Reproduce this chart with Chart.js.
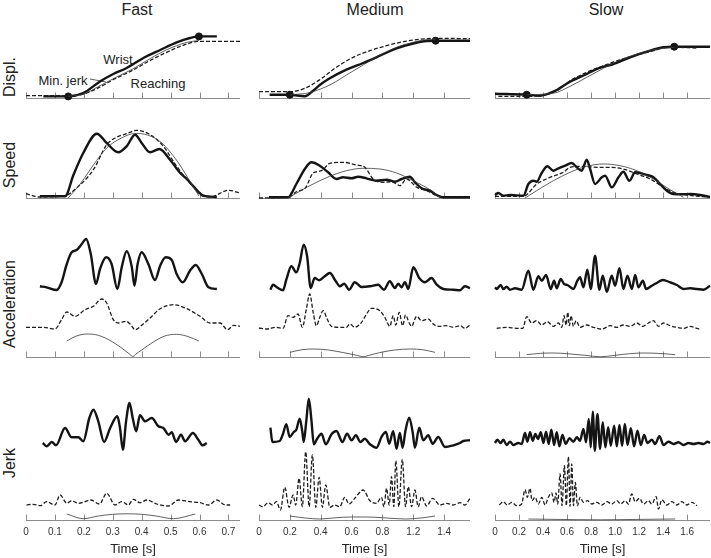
<!DOCTYPE html>
<html>
<head>
<meta charset="utf-8">
<script src="https://cdn.jsdelivr.net/npm/chart.js@4.4.1/dist/chart.umd.min.js"></script>
<style>
html, body { margin: 0; padding: 0; background: #fff; overflow: hidden; width: 711px; height: 558px; }
#fig { position: relative; width: 711px; height: 558px; font-family: "Liberation Sans", Arial, Helvetica, sans-serif; color: #222; }
#fig canvas { position: absolute; }
.lbl { position: absolute; white-space: nowrap; transform: translate(-50%, -50%); line-height: 1; }
.title { font-size: 16px; }
.rowlbl { font-size: 16px; transform: translate(-50%, -50%) rotate(-90deg); }
.note { font-size: 13px; }
</style>
</head>
<body>
<div id="fig">
  <div class="lbl title" style="left:137px; top:10px;">Fast</div>
  <div class="lbl title" style="left:375px; top:10px;">Medium</div>
  <div class="lbl title" style="left:606px; top:10px;">Slow</div>
  <div class="lbl rowlbl" style="left:10px; top:77px;">Displ.</div>
  <div class="lbl rowlbl" style="left:10px; top:165px;">Speed</div>
  <div class="lbl rowlbl" style="left:10px; top:304px;">Acceleration</div>
  <div class="lbl rowlbl" style="left:10px; top:463px;">Jerk</div>
  <div class="lbl note" style="left:118px; top:59px;">Wrist</div>
  <div class="lbl note" style="left:63px; top:80px;">Min. jerk</div>
  <div class="lbl note" style="left:158px; top:83px;">Reaching</div>
  <svg width="711" height="558" style="position:absolute; left:0; top:0; pointer-events:none;">
    <line x1="90" y1="79" x2="106" y2="82" stroke="#333" stroke-width="0.8"/>
  </svg>
</div>
<script>
// tick labels under each column
const fastTickLabels = ['0', '0.1', '0.2', '0.3', '0.4', '0.5', '0.6', '0.7'];
const mediumTickLabels = ['0', '0.2', '0.4', '0.6', '0.8', '1.2', '1.4'];
const slowTickLabels = ['0', '0.2', '0.4', '0.6', '0.8', '1.0', '1.2', '1.4', '1.6'];

// [time s, value] -- arbitrary units

// ---- Fast ----
const fastDisplWrist = [[0.06,1.6],[0.146,1.6],[0.198,5],[0.256,16.6],[0.302,24],[0.348,30],[0.406,40],[0.464,48],[0.521,55.6],[0.567,60],[0.598,61.6],[0.66,61.6]];
const fastDisplReach = [[0,2.3],[0.15,2.3],[0.198,4],[0.256,11],[0.308,19.3],[0.366,27.3],[0.423,36.6],[0.481,45],[0.54,52.3],[0.598,56.6],[0.74,56.6]];
const fastDisplMinJerk = [[0.146,1.6],[0.2,4],[0.256,12.3],[0.31,20.5],[0.371,29.3],[0.43,39.5],[0.487,48.3],[0.556,55.6],[0.598,57.5]];
const fastDisplMarks = [[0.146,1.6],[0.598,61.6]];

const fastSpeedWrist = [[0.048,1.7],[0.135,1.7],[0.164,23],[0.198,45],[0.245,64.3],[0.279,55],[0.319,45.7],[0.348,51.7],[0.377,63.3],[0.4,55],[0.429,45.7],[0.461,49],[0.498,38.3],[0.533,25],[0.556,19],[0.579,11.7],[0.614,2.3],[0.66,1]];
const fastSpeedReach = [[0,4.3],[0.048,1],[0.135,2.3],[0.175,10],[0.233,28.3],[0.279,53.3],[0.308,60],[0.348,64.3],[0.383,67.7],[0.429,63.3],[0.475,51.7],[0.521,31.7],[0.567,15],[0.614,1.7],[0.637,1],[0.7,7.7],[0.74,5]];
const fastSpeedMinJerk = [[0.146,0],[0.19,15],[0.233,33],[0.279,50],[0.33,60],[0.377,64.5],[0.42,63],[0.47,55],[0.52,38],[0.56,20],[0.598,2]];

const fastAccWrist = [[0.048,2.7],[0.071,1.7],[0.106,-1],[0.123,6.7],[0.141,25],[0.158,36.7],[0.175,39],[0.193,45],[0.208,50],[0.224,35],[0.242,5],[0.256,20],[0.277,31.7],[0.296,25],[0.316,0],[0.331,21.7],[0.348,37.7],[0.366,21.7],[0.375,3.3],[0.386,25],[0.4,36.7],[0.423,25],[0.446,9],[0.464,23.3],[0.483,31.7],[0.504,29],[0.521,15],[0.542,6.7],[0.567,18.3],[0.587,24],[0.608,15],[0.631,1.7],[0.66,0]];
const fastAccReach = [[0,0.7],[0.025,0.7],[0.06,0.7],[0.1,-1],[0.123,8.3],[0.141,16],[0.17,11.7],[0.204,18.3],[0.233,21.7],[0.262,29],[0.279,25],[0.302,8.3],[0.319,5],[0.346,6.7],[0.362,3.3],[0.377,-1.7],[0.4,2.7],[0.429,10],[0.464,19.3],[0.51,23.3],[0.556,19.3],[0.602,11.7],[0.637,5],[0.671,5],[0.697,-1.7],[0.718,2.7],[0.74,1.7]];
const fastAccMinJerk = [[0.141,16],[0.17,20.5],[0.21,23],[0.25,21.7],[0.3,15],[0.34,7],[0.36,2.5],[0.369,0.3],[0.378,2.5],[0.4,7],[0.44,15],[0.48,21],[0.52,22.7],[0.56,20.5],[0.598,16]];

const fastJerkWrist = [[0.058,0],[0.071,-3.3],[0.089,1],[0.104,-2.3],[0.135,15],[0.158,5.7],[0.181,5.7],[0.198,1.7],[0.219,25],[0.233,33.3],[0.25,21.7],[0.27,1],[0.291,15],[0.316,26.7],[0.325,15],[0.335,-6.7],[0.346,21.7],[0.358,40],[0.369,25],[0.381,11.7],[0.394,27.7],[0.412,21.7],[0.435,25],[0.458,16.7],[0.475,15],[0.493,8.3],[0.504,10.7],[0.519,1],[0.536,8.3],[0.55,1.7],[0.577,10],[0.596,3.3],[0.611,-2.3],[0.625,0]];
const fastJerkReach = [[0.002,0],[0.025,0.7],[0.05,-0.7],[0.071,3.3],[0.1,0],[0.118,10],[0.141,1.7],[0.158,4.3],[0.181,1.7],[0.204,3.3],[0.224,5],[0.254,1],[0.279,11.7],[0.308,0],[0.331,3.3],[0.354,0],[0.371,5.7],[0.394,2.3],[0.418,5],[0.452,1],[0.493,-1],[0.527,5],[0.567,3.3],[0.602,2.3],[0.631,0],[0.66,5],[0.689,0],[0.706,0]];
const fastJerkMinJerk = [[0.141,6],[0.198,1.3],[0.25,4],[0.3,5.7],[0.35,6.2],[0.4,5.7],[0.45,4],[0.51,1.3],[0.585,6]];

// ---- Medium ----
const medDisplWrist = [[0.069,3.3],[0.2,3.3],[0.297,1.7],[0.351,7.3],[0.394,13],[0.459,19.7],[0.567,28.3],[0.675,35],[0.784,42.3],[0.892,49.7],[1.0,54.5],[1.087,57],[1.145,57.3],[1.368,57.3]];
const medDisplReach = [[0,6.3],[0.2,6.3],[0.297,9.7],[0.394,18.3],[0.502,30.7],[0.61,40.7],[0.719,47.3],[0.827,52.3],[0.935,56.3],[1.043,58.7],[1.152,59.7],[1.368,59.3]];
const medDisplMinJerk = [[0.2,3.3],[0.3,4.5],[0.351,6.5],[0.459,13],[0.567,23],[0.675,33],[0.784,43],[0.892,50.7],[1.0,55.7],[1.087,58.3],[1.145,58.5]];
const medDisplMarks = [[0.2,3.3],[1.145,57.3]];

const medSpeedWrist = [[0.065,0.7],[0.188,0.7],[0.242,14],[0.297,29],[0.34,35.7],[0.394,32.3],[0.448,25.7],[0.502,19],[0.545,20.7],[0.6,19.7],[0.643,21.3],[0.697,19.7],[0.762,17.3],[0.827,18.3],[0.881,16.3],[0.924,19],[0.978,21.3],[1.011,15.7],[1.054,9.7],[1.108,7.3],[1.152,3],[1.195,0.7],[1.368,0.7]];
const medSpeedReach = [[0,0],[0.188,0.7],[0.242,6.3],[0.303,10.7],[0.351,25],[0.405,27.3],[0.459,34.7],[0.545,35.7],[0.632,33],[0.686,30.7],[0.74,19],[0.805,15.7],[0.859,16.3],[0.892,14],[0.913,12.3],[0.957,19],[1.022,10.7],[1.087,7.3],[1.152,2.3],[1.195,0.3],[1.368,0.3]];
const medSpeedMinJerk = [[0.188,0],[0.329,12.3],[0.459,21.7],[0.567,27.3],[0.675,29.7],[0.784,29],[0.892,25],[1.0,17.3],[1.108,8.3],[1.173,0.7]];

const medAccWrist = [[0.074,-0.7],[0.091,4.3],[0.123,1],[0.156,-1.3],[0.177,9.3],[0.21,22.7],[0.242,16.7],[0.264,26],[0.29,44.3],[0.312,32.7],[0.335,1],[0.361,11],[0.39,8.7],[0.426,12.7],[0.459,16],[0.498,7.7],[0.524,2.7],[0.552,5.3],[0.584,-0.7],[0.621,6.7],[0.665,2],[0.719,2.7],[0.773,4.3],[0.81,-0.7],[0.848,7.7],[0.881,1],[0.903,5.3],[0.924,1.7],[0.946,6.7],[0.968,0],[1.0,21.7],[1.039,11],[1.076,6.7],[1.119,11],[1.152,4.3],[1.195,0],[1.26,-0.7],[1.303,-1.3],[1.335,2.7],[1.368,1]];
const medAccReach = [[0,0],[0.048,-1],[0.113,0.7],[0.156,-0.3],[0.188,12.3],[0.221,10.7],[0.253,14],[0.281,0.7],[0.307,19],[0.329,34],[0.351,15.7],[0.372,2.3],[0.394,10.7],[0.416,17.3],[0.442,9],[0.47,1.7],[0.524,0.7],[0.567,0.7],[0.589,4],[0.621,0.7],[0.665,5.7],[0.697,14],[0.729,19.7],[0.784,17.3],[0.816,10.7],[0.848,1.7],[0.87,12.3],[0.887,3],[0.909,15.7],[0.931,2.3],[0.95,13],[0.974,5],[0.989,1.7],[1.022,11.7],[1.054,7.3],[1.097,9],[1.13,4],[1.162,1.7],[1.216,2.3],[1.26,0.7],[1.303,2.3],[1.335,-0.3],[1.368,3]];
const medAccMinJerk = [[0.2,4.7],[0.28,7.3],[0.35,8],[0.45,7],[0.55,4.3],[0.64,1.5],[0.675,0.2],[0.71,1.5],[0.78,4.3],[0.88,7],[0.98,8],[1.06,7.3],[1.141,4.7]];

const medJerkWrist = [[0.074,15.3],[0.087,1],[0.134,2],[0.156,9.3],[0.177,18.7],[0.199,6],[0.225,11],[0.242,13.3],[0.264,24.3],[0.281,11],[0.29,1],[0.307,22.7],[0.323,44.3],[0.34,22.7],[0.355,-1.3],[0.377,4.3],[0.405,9.3],[0.433,-1.3],[0.47,8.7],[0.502,12],[0.541,1],[0.571,9.3],[0.6,2.7],[0.628,7.7],[0.658,1],[0.686,4.3],[0.719,-1.3],[0.762,-4.7],[0.794,6],[0.823,11],[0.844,-0.7],[0.87,11.7],[0.892,-5.7],[0.913,10],[0.931,-4.7],[0.95,12.7],[0.974,25.3],[0.996,11],[1.011,-4.7],[1.039,15.3],[1.065,2.7],[1.097,7.7],[1.126,-0.7],[1.162,6],[1.206,-4],[1.26,-2.3],[1.303,0],[1.325,2],[1.368,2.7]];
const medJerkReach = [[0,0],[0.026,-1.7],[0.058,2.3],[0.087,0],[0.113,3.3],[0.139,-5],[0.167,17.7],[0.195,-2.3],[0.221,10],[0.238,0],[0.26,26.7],[0.281,-1.7],[0.303,53.3],[0.325,-1.7],[0.346,50],[0.368,-2.3],[0.39,27.7],[0.411,-2.3],[0.433,20],[0.459,-2.3],[0.491,0],[0.524,-1.7],[0.556,7.7],[0.584,1],[0.621,6.7],[0.675,15],[0.719,4.3],[0.762,1.7],[0.794,7.7],[0.81,-1.7],[0.827,16.7],[0.844,0],[0.859,28.3],[0.874,-1.7],[0.887,44.3],[0.907,-1.7],[0.929,45.7],[0.95,-1.7],[0.968,18.3],[0.989,-1.7],[1.011,15],[1.032,-1.7],[1.054,8.3],[1.087,-1],[1.126,6.7],[1.173,0],[1.216,1.7],[1.26,0],[1.303,2.3],[1.335,0],[1.368,6.7]];
const medJerkMinJerk = [[0.2,4],[0.3,2],[0.394,1],[0.5,2.3],[0.6,3],[0.7,3],[0.8,2.3],[0.95,1],[1.05,2],[1.141,4]];

// ---- Slow ----
const slowDisplWrist = [[0,4.3],[0.264,3.3],[0.375,2.3],[0.486,6.3],[0.625,16.3],[0.764,24],[0.861,29.7],[0.986,34],[1.125,40.7],[1.264,46.3],[1.403,50.7],[1.492,51.3],[1.79,51.3]];
const slowDisplReach = [[0.028,1.7],[0.25,1.7],[0.375,2.3],[0.514,7.3],[0.625,17.3],[0.764,25.7],[0.903,32.3],[1.042,38.3],[1.181,43],[1.319,47.3],[1.431,50.7],[1.492,50.7],[1.681,50]];
const slowDisplMinJerk = [[0.264,3.3],[0.486,4.7],[0.625,11.7],[0.764,20.7],[0.903,29.7],[1.042,38],[1.181,44],[1.319,48.3],[1.492,50.7]];
const slowDisplMarks = [[0.264,3.3],[1.492,51.3]];

const slowSpeedWrist = [[0,3],[0.028,5],[0.069,2.3],[0.125,3],[0.236,2.3],[0.278,14],[0.319,17.3],[0.347,16.3],[0.389,25],[0.436,31.7],[0.486,27.3],[0.528,29.7],[0.583,32.3],[0.639,35],[0.681,30.7],[0.722,27.3],[0.764,38.3],[0.792,29],[0.833,14],[0.889,20.7],[0.917,22.3],[0.972,10.7],[1.028,20.7],[1.069,26.3],[1.119,17.3],[1.167,25.7],[1.208,25],[1.264,23],[1.319,20.7],[1.375,14],[1.431,7.3],[1.486,4],[1.569,3.7],[1.625,4],[1.708,3],[1.79,1]];
const slowSpeedReach = [[0,1.7],[0.236,1.7],[0.347,14],[0.458,20.7],[0.569,25.7],[0.625,30.7],[0.736,31.7],[0.847,30.7],[0.958,30.7],[1.069,29],[1.181,24],[1.292,19],[1.403,10.7],[1.486,5.7],[1.597,3],[1.79,0.7]];
const slowSpeedMinJerk = [[0.25,0],[0.347,7.3],[0.486,17.3],[0.625,25.7],[0.764,31.7],[0.903,34],[1.042,32.3],[1.181,27.3],[1.319,19],[1.458,8.3],[1.569,0.7]];

const slowAccWrist = [[0,1.7],[0.014,0],[0.047,4],[0.069,0],[0.097,2.3],[0.125,-0.7],[0.167,0.7],[0.222,-0.7],[0.278,18.3],[0.319,-0.7],[0.361,12.7],[0.389,8.3],[0.425,14],[0.464,0],[0.492,8.3],[0.514,0.7],[0.547,10],[0.575,5],[0.603,4],[0.653,0],[0.686,8.3],[0.708,11.7],[0.736,1.7],[0.769,19.3],[0.797,0],[0.833,33.3],[0.869,-0.7],[0.897,13.3],[0.931,-2.7],[0.972,13.3],[1.0,3.3],[1.036,20.7],[1.069,0],[1.103,13.3],[1.139,0],[1.167,14],[1.194,1.7],[1.231,8.3],[1.258,0],[1.306,3.3],[1.347,6],[1.397,9],[1.458,6.7],[1.514,4],[1.569,0],[1.625,0.7],[1.681,0],[1.736,-0.7],[1.79,3.3]];
const slowAccReach = [[0.014,-0.3],[0.097,0.7],[0.181,-0.3],[0.231,-0.3],[0.264,11.3],[0.306,5],[0.347,7.3],[0.389,3],[0.436,6.3],[0.486,1.7],[0.528,5],[0.556,0.7],[0.575,12.3],[0.592,3],[0.606,15.7],[0.619,2.3],[0.633,12.3],[0.653,1.7],[0.675,7.3],[0.708,0.7],[0.764,3],[0.819,0.7],[0.889,-1],[0.958,2.3],[1.014,0.7],[1.069,3],[1.125,1.7],[1.181,5],[1.231,1.7],[1.278,5],[1.319,7.3],[1.361,1.7],[1.403,5],[1.458,2.3],[1.514,0.7],[1.569,-0.3],[1.625,1.7],[1.681,-0.3],[1.708,-1]];
const slowAccMinJerk = [[0.264,2.3],[0.38,3.7],[0.486,4],[0.6,3.3],[0.75,1.7],[0.875,0.2],[1.0,1.7],[1.12,3.3],[1.236,4],[1.38,3.5],[1.5,2.3]];

const slowJerkWrist = [[0,0],[0.019,3.3],[0.047,0],[0.069,3.3],[0.097,-2],[0.125,1.3],[0.153,-2],[0.194,0],[0.222,-1],[0.25,10],[0.269,1.3],[0.292,10.7],[0.314,2.3],[0.336,9],[0.358,4],[0.381,10.7],[0.403,0],[0.425,11.3],[0.447,-1],[0.469,13.3],[0.492,-2],[0.514,10.7],[0.536,-3.3],[0.561,8],[0.589,-1],[0.619,4.7],[0.653,1.3],[0.681,5.7],[0.708,2.3],[0.736,14],[0.758,0.7],[0.781,24],[0.797,-4.3],[0.814,31.3],[0.831,-7.7],[0.853,29],[0.875,-6],[0.897,20.7],[0.919,-4.3],[0.942,15.7],[0.964,-2.7],[0.992,17.3],[1.014,-3.3],[1.036,18],[1.058,-2.7],[1.081,19],[1.103,-2],[1.131,14.7],[1.158,-3.3],[1.186,12.3],[1.214,-2],[1.242,8],[1.269,0],[1.306,3.3],[1.333,-1],[1.369,6.7],[1.403,-2],[1.444,1.3],[1.486,-1],[1.528,0.7],[1.569,-2],[1.611,0],[1.653,-1],[1.694,0],[1.736,-1],[1.769,1.3],[1.79,0]];
const slowJerkReach = [[0.036,0],[0.069,3.3],[0.103,0],[0.139,2.7],[0.181,-0.7],[0.222,1],[0.25,15.3],[0.269,7.7],[0.292,16.7],[0.308,4.3],[0.333,7.7],[0.361,1],[0.389,7.7],[0.417,0],[0.444,7.7],[0.472,12],[0.492,2.7],[0.508,12],[0.522,1],[0.542,31],[0.558,-0.7],[0.578,39.3],[0.594,-0.7],[0.611,48.3],[0.625,-1.3],[0.639,41],[0.653,-0.7],[0.669,22.7],[0.686,-0.7],[0.708,7.7],[0.736,2.7],[0.769,4.3],[0.806,1],[0.847,2.7],[0.889,0],[0.931,3.3],[0.972,1],[1.014,4.3],[1.047,1],[1.083,4.3],[1.111,1],[1.139,11],[1.167,3.3],[1.203,6.7],[1.236,1],[1.278,4.3],[1.306,1],[1.342,8.3],[1.361,-4],[1.389,5.3],[1.431,0],[1.472,3.3],[1.514,0],[1.556,3.3],[1.597,0],[1.639,2.7],[1.681,-0.7]];
const slowJerkMinJerk = [[0.278,1],[0.5,0.6],[0.88,0.2],[1.2,0.6],[1.5,1]];

// ---- layout ----
const columns = [
  {left: 26, width: 214, max: 0.74, step: 0.1, labels: fastTickLabels},
  {left: 259, width: 211, max: 1.368, step: 0.2, labels: mediumTickLabels},
  {left: 495, width: 215, max: 1.79, step: 0.2, labels: slowTickLabels}
];
const rows = [
  {top: 22, bottom: 98, wristBase: 0, reachBase: 0},
  {top: 112, bottom: 198, wristBase: 0, reachBase: 0},
  {top: 228, bottom: 357, wristBase: 68, reachBase: 29},
  {top: 392, bottom: 520, wristBase: 77, reachBase: 15}
];
const series = [
  [
    {wrist: fastDisplWrist, reach: fastDisplReach, minJerk: fastDisplMinJerk, marks: fastDisplMarks},
    {wrist: medDisplWrist, reach: medDisplReach, minJerk: medDisplMinJerk, marks: medDisplMarks},
    {wrist: slowDisplWrist, reach: slowDisplReach, minJerk: slowDisplMinJerk, marks: slowDisplMarks}
  ],
  [
    {wrist: fastSpeedWrist, reach: fastSpeedReach, minJerk: fastSpeedMinJerk},
    {wrist: medSpeedWrist, reach: medSpeedReach, minJerk: medSpeedMinJerk},
    {wrist: slowSpeedWrist, reach: slowSpeedReach, minJerk: slowSpeedMinJerk}
  ],
  [
    {wrist: fastAccWrist, reach: fastAccReach, minJerk: fastAccMinJerk},
    {wrist: medAccWrist, reach: medAccReach, minJerk: medAccMinJerk},
    {wrist: slowAccWrist, reach: slowAccReach, minJerk: slowAccMinJerk}
  ],
  [
    {wrist: fastJerkWrist, reach: fastJerkReach, minJerk: fastJerkMinJerk},
    {wrist: medJerkWrist, reach: medJerkReach, minJerk: medJerkMinJerk},
    {wrist: slowJerkWrist, reach: slowJerkReach, minJerk: slowJerkMinJerk}
  ]
];

const FONT = '"Liberation Sans", Arial, Helvetica, sans-serif';
const PAD = 10;
const AXIS_H = 38;

Chart.defaults.font.family = FONT;
Chart.defaults.animation = false;
Chart.defaults.plugins.legend.display = false;
Chart.defaults.plugins.tooltip.enabled = false;

// baseline with small upward ticks, drawn in every panel
const axisLine = {
  id: 'axisLine',
  beforeDatasetsDraw(chart, args, opts) {
    const {ctx, chartArea} = chart;
    const x = chart.scales.x;
    const y = Math.round(chartArea.bottom) + 0.5;
    ctx.save();
    ctx.strokeStyle = '#8c8c8c';
    ctx.lineWidth = 1;
    ctx.beginPath();
    ctx.moveTo(x.getPixelForValue(0), y);
    ctx.lineTo(x.right, y);
    opts.ticks.forEach(v => {
      const px = Math.round(x.getPixelForValue(v)) + 0.5;
      ctx.moveTo(px, y);
      ctx.lineTo(px, y - 6);
    });
    ctx.stroke();
    ctx.restore();
  }
};

const pts = arr => arr.map(([x, y]) => ({x, y}));
const fig = document.getElementById('fig');

rows.forEach((row, r) => {
  columns.forEach((col, c) => {
    const s = series[r][c];
    const bottomRow = r === rows.length - 1;
    const h = row.bottom - row.top;

    const canvas = document.createElement('canvas');
    canvas.width = col.width + 2 * PAD;
    canvas.height = h + PAD + (bottomRow ? AXIS_H : PAD);
    canvas.style.left = (col.left - PAD) + 'px';
    canvas.style.top = (row.top - PAD) + 'px';
    fig.appendChild(canvas);

    const datasets = [
      {data: pts(s.minJerk), yAxisID: 'y', borderColor: '#3a3a3a', borderWidth: 0.8},
      {data: pts(s.reach), yAxisID: 'yR', borderColor: '#1e1e1e', borderWidth: 1.3, borderDash: [4, 2]},
      {data: pts(s.wrist), yAxisID: 'yW', borderColor: '#141414', borderWidth: 2.4}
    ];
    if (s.marks) {
      datasets.push({data: pts(s.marks), yAxisID: 'yW', showLine: false, pointRadius: 3.5,
        pointBackgroundColor: '#141414', pointBorderColor: '#141414'});
    }
    datasets.forEach(d => {
      d.fill = false;
      d.clip = false;
      d.cubicInterpolationMode = 'monotone';
      if (d.pointRadius === undefined) d.pointRadius = 0;
    });

    const yScale = base => ({type: 'linear', display: false, min: -base, max: h - base});

    new Chart(canvas.getContext('2d'), {
      type: 'line',
      data: {datasets},
      options: {
        responsive: false,
        events: [],
        layout: {padding: {left: PAD, right: PAD, top: PAD, bottom: bottomRow ? 0 : PAD}},
        plugins: {
          axisLine: {ticks: col.labels.map((_, i) => i * col.step)}
        },
        scales: {
          x: {
            type: 'linear',
            min: 0,
            max: col.max,
            display: bottomRow,
            grid: {display: false, drawTicks: false},
            border: {display: false},
            ticks: {
              stepSize: col.step,
              includeBounds: false,
              autoSkip: false,
              maxRotation: 0,
              padding: 6,
              color: '#333',
              font: {size: 10},
              callback: (v, i) => col.labels[i]
            },
            title: {display: true, text: 'Time [s]', color: '#222', font: {size: 13}, padding: {top: 0, bottom: 1}},
            afterFit: scale => { if (bottomRow) scale.height = AXIS_H; }
          },
          y: yScale(0),
          yR: yScale(row.reachBase),
          yW: yScale(row.wristBase)
        }
      },
      plugins: [axisLine]
    });
  });
});
</script>
</body>
</html>
